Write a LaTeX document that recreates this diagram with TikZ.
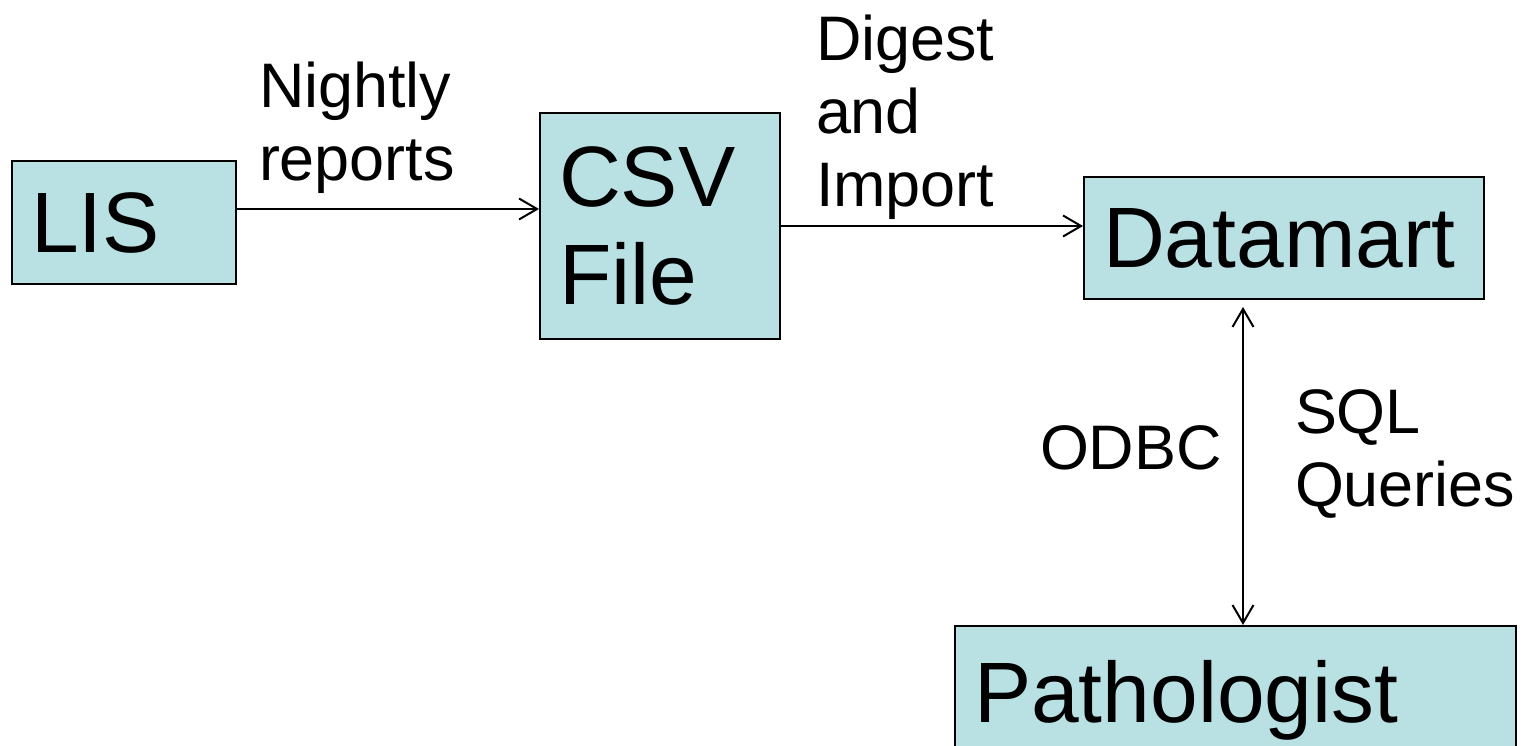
\documentclass[tikz,border=0pt]{standalone}
\usepackage{fontspec}
\setmainfont{Liberation Sans}
\usepackage{tikz}
\usetikzlibrary{arrows.meta, positioning, calc}

\definecolor{boxblue}{RGB}{185,224,227}
\newcommand{\boxfont}{\fontsize{48.8}{56}\selectfont}
\newcommand{\labelfont}{\fontsize{35.8}{41.4}\selectfont}

\begin{document}
\begin{tikzpicture}[
                                        x=0.02cm, y=-0.02cm,
                                        box/.style={rectangle, draw, fill=boxblue, line width=0.04cm, inner xsep=0.38cm, inner ysep=0pt, align=left, font=\boxfont},
                                        lbl/.style={inner sep=0pt, align=left, font=\labelfont},
                                        >={Straight Barb[length=0.36cm, width=0.42cm]},
                                        line width=0.04cm
                                ]

                                \useasboundingbox (0,0) rectangle (1525,746);

                                % Define the main nodes
                                \node[box, text width=3.72cm, minimum height=2.46cm] (lis) at (124,222.5) {LIS};
                                \node[box, text width=4.04cm, minimum height=4.52cm] (csv) at (660,226) {CSV\\File};
                                \node[box, text width=7.24cm, minimum height=2.44cm] (dm) at (1284,238) {Datamart};
                                \node[box, text width=10.46cm, minimum height=2.96cm, anchor=north] (pat) at (1235.5,625) {Pathologist};

                                % Define the labels
                                \node[lbl, anchor=north west] (nightly) at (258,61) {Nightly\\reports};
                                \node[lbl, anchor=north west] (digest) at (815,14) {Digest\\and\\Import};
                                \node[lbl, anchor=base west] (odbc) at (1039,470) {ODBC};
                                \node[lbl, anchor=north west] (sql) at (1294,389) {SQL\\Queries};

                                % Draw the arrows
                                \draw[->] ([yshift=0.27cm]lis.east) -- ([yshift=0.27cm]lis.east -| csv.west);
                                \draw[->] (csv.east) -- (csv.east -| dm.west);
                                \draw[<->, shorten >=0.14cm] ([xshift=0.15cm]pat.north) -- ([xshift=0.15cm]pat.north |- dm.south);
                        \end{tikzpicture}
\end{document}
